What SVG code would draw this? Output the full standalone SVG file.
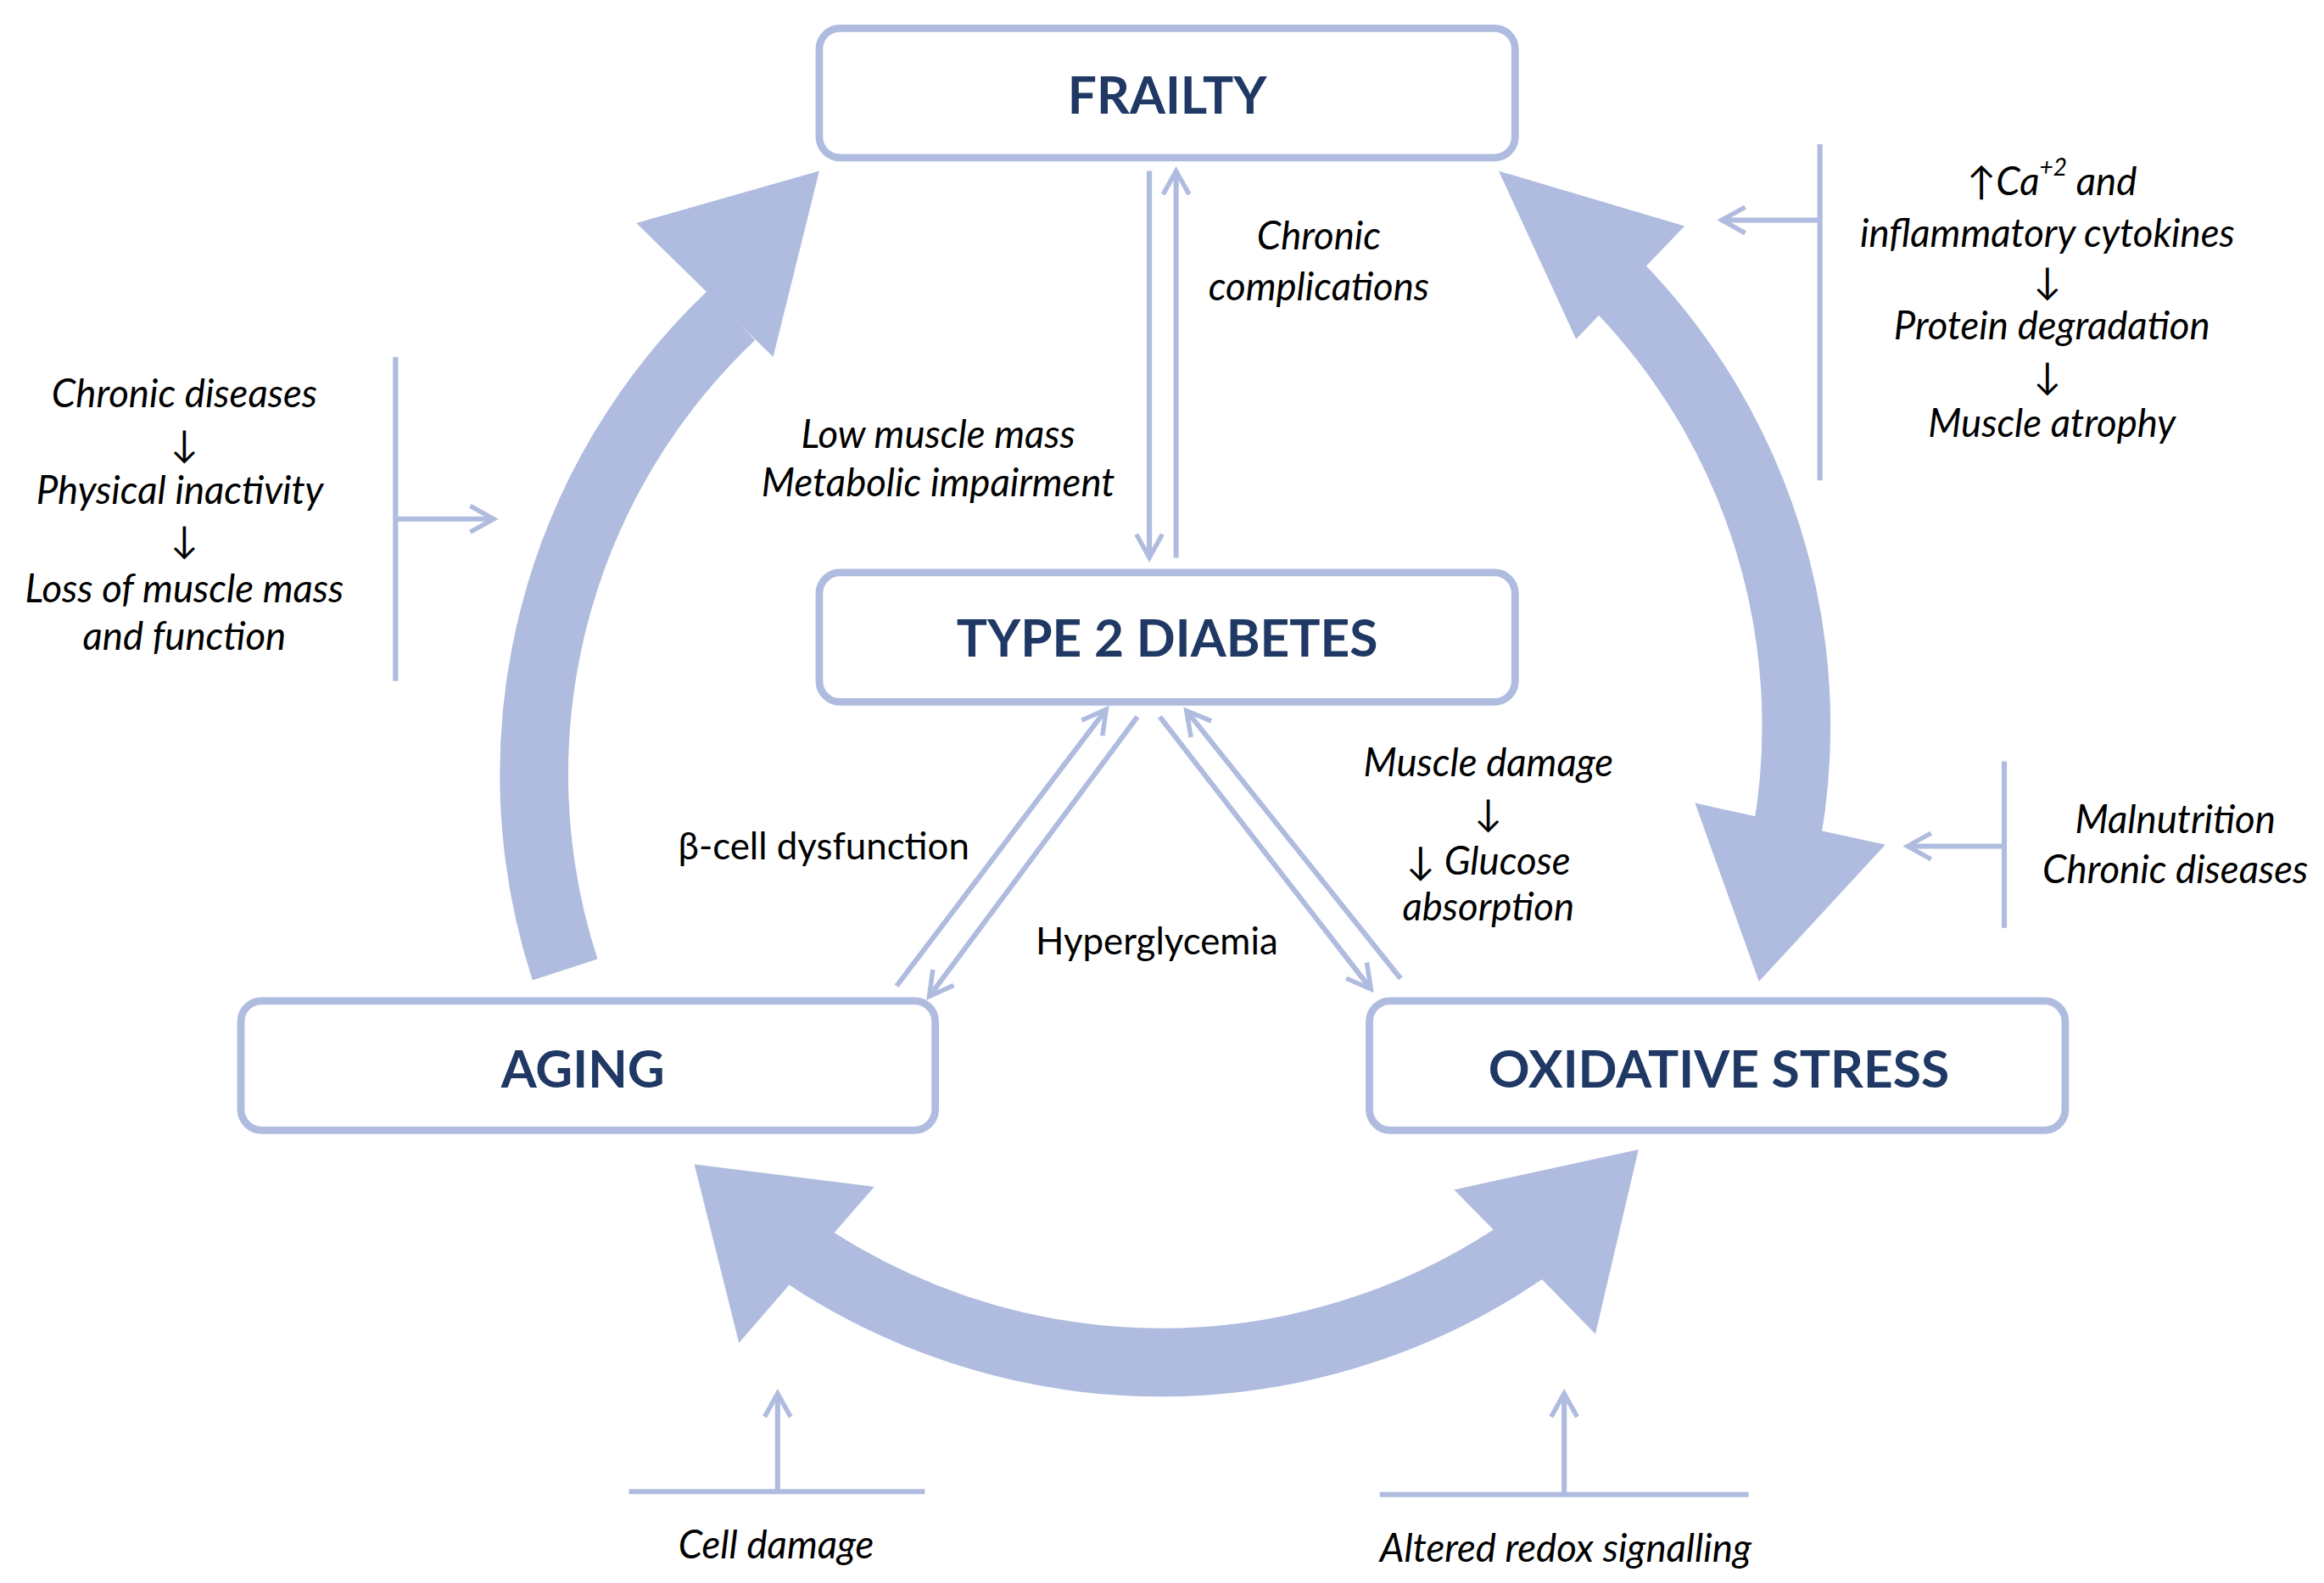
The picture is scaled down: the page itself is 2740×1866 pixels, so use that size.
<svg xmlns="http://www.w3.org/2000/svg" width="2740" height="1866" viewBox="0 0 2740 1866">
<defs>
<style>
.box{fill:#fff;stroke:#afbcdf;stroke-width:5}
.bl{font-family:Lato,"Liberation Sans",sans-serif;font-weight:bold;font-size:34.5px;fill:#1f3864;text-anchor:middle;dominant-baseline:central}
.it{font-family:Lato,"Liberation Sans",sans-serif;font-style:italic;font-size:26px;fill:#000;text-anchor:middle;dominant-baseline:central}
.nt{font-family:Lato,"Liberation Sans",sans-serif;font-size:25px;fill:#000;text-anchor:middle;dominant-baseline:central}
.big{fill:none;stroke:#afbcdf;stroke-width:46}
.head{fill:#afbcdf}
.thin{fill:none;stroke:#afbcdf;stroke-width:3.5}
.thinA{fill:none;stroke:#afbcdf;stroke-width:3.5;marker-end:url(#ah)}
</style>
<marker id="ah" viewBox="0 0 12 12" refX="10" refY="6" markerWidth="6" markerHeight="6" orient="auto" markerUnits="strokeWidth">
<path d="M1,1 L10,6 L1,11" fill="none" stroke="#afbcdf" stroke-width="1.8"/>
</marker>
</defs>
<g transform="scale(1.753)">
<g id="connectors">
<path class="big" d="M380,652 A425 425 0 0 1 492,212"/>
<polygon class="head" points="428,150 551,115 520,240"/>
<path class="big" d="M1088,192 A425 425 0 0 1 1202,560"/>
<polygon class="head" points="1008,115 1133,152 1060,228"/>
<polygon class="head" points="1140,540 1268,568 1183,660"/>
<path class="big" d="M525,832 A432 432 0 0 0 1040,830"/>
<polygon class="head" points="467,783 588,798 497,903"/>
<polygon class="head" points="978,800 1102,773 1073,897"/>
<line class="thinA" x1="773" y1="115" x2="773" y2="375"/>
<line class="thinA" x1="791" y1="375" x2="791" y2="115"/>
<line class="thinA" x1="603" y1="663" x2="744" y2="477"/>
<line class="thinA" x1="765" y1="482" x2="625" y2="670"/>
<line class="thinA" x1="780" y1="482" x2="922" y2="665"/>
<line class="thinA" x1="942" y1="658" x2="798" y2="478"/>
<line class="thin" x1="266" y1="240" x2="266" y2="458"/>
<line class="thinA" x1="266" y1="349" x2="332" y2="349"/>
<line class="thin" x1="1224" y1="97" x2="1224" y2="323"/>
<line class="thinA" x1="1224" y1="148" x2="1158" y2="148"/>
<line class="thin" x1="1348" y1="512" x2="1348" y2="624"/>
<line class="thinA" x1="1348" y1="569" x2="1283" y2="569"/>
<line class="thin" x1="423" y1="1003" x2="622" y2="1003"/>
<line class="thinA" x1="523" y1="1003" x2="523" y2="937"/>
<line class="thin" x1="928" y1="1005" x2="1176" y2="1005"/>
<line class="thinA" x1="1052" y1="1005" x2="1052" y2="937"/>
</g>
<g id="frailty"><rect class="box" x="551" y="19" width="468" height="87" rx="14"/><text class="bl" x="785" y="63">FRAILTY</text></g>
<g id="t2d"><rect class="box" x="551" y="385" width="468" height="87" rx="14"/><text class="bl" x="785" y="428">TYPE 2 DIABETES</text></g>
<g id="aging"><rect class="box" x="162" y="673" width="467" height="87" rx="14"/><text class="bl" x="392" y="718">AGING</text></g>
<g id="oxidative"><rect class="box" x="921" y="673" width="468" height="87" rx="14"/><text class="bl" x="1156" y="718">OXIDATIVE STRESS</text></g>
<g id="labels">
<text class="it" x="887" y="158">Chronic</text>
<text class="it" x="887" y="192">complications</text>
<text class="it" x="631" y="291">Low muscle mass</text>
<text class="it" x="631" y="324">Metabolic impairment</text>
<text class="it" x="124" y="264">Chronic diseases</text>
<text class="nt" x="124" y="298">↓</text>
<text class="it" x="121" y="329">Physical inactivity</text>
<text class="nt" x="124" y="362">↓</text>
<text class="it" x="124" y="395">Loss of muscle mass</text>
<text class="it" x="124" y="427">and function</text>
<text class="it" x="1380" y="121"><tspan font-style="normal">↑</tspan>Ca<tspan font-size="16" dy="-9">+2</tspan><tspan dy="9"> and</tspan></text>
<text class="it" x="1377" y="156">inflammatory cytokines</text>
<text class="nt" x="1377" y="188">↓</text>
<text class="it" x="1380" y="218">Protein degradation</text>
<text class="nt" x="1377" y="252">↓</text>
<text class="it" x="1380" y="284">Muscle atrophy</text>
<text class="it" x="1001" y="512">Muscle damage</text>
<text class="nt" x="1001" y="546">↓</text>
<text class="it" x="1001" y="578"><tspan font-style="normal">↓</tspan> Glucose</text>
<text class="it" x="1001" y="609">absorption</text>
<text class="nt" x="554" y="568">β-cell dysfunction</text>
<text class="nt" x="778" y="632">Hyperglycemia</text>
<text class="it" x="1463" y="550">Malnutrition</text>
<text class="it" x="1463" y="584">Chronic diseases</text>
<text class="it" x="522" y="1038">Cell damage</text>
<text class="it" x="1053" y="1040">Altered redox signalling</text>
</g>
</g>
</svg>
